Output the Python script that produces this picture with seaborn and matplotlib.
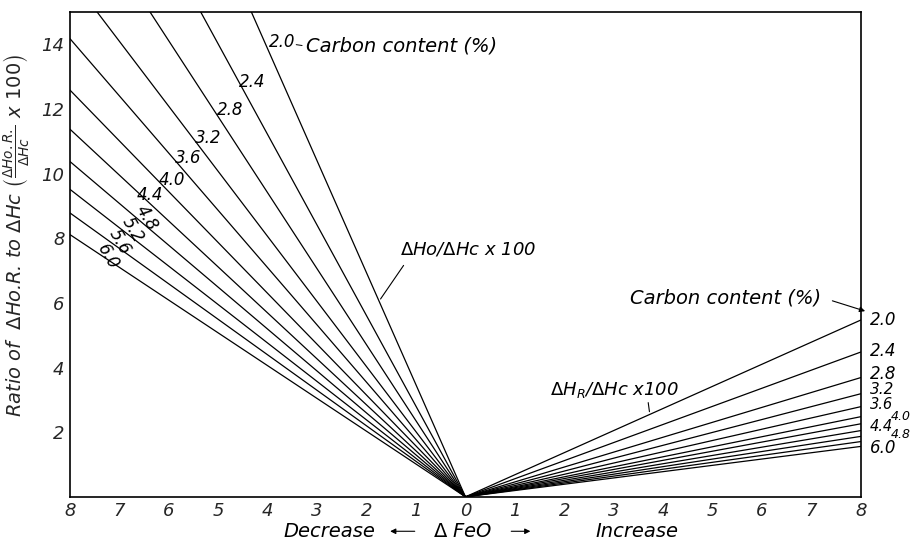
import pandas as pd
import seaborn as sns
import matplotlib.pyplot as plt
import numpy as np

# Carbon content (%) for each line
carbon = [2.0, 2.4, 2.8, 3.2, 3.6, 4.0, 4.4, 4.8, 5.2, 5.6, 6.0]
# dHo/dHc x100 read at a FeO decrease of 8 (steep lines run off the top)
left_at8 = [27.7, 22.4, 18.8, 16.1, 14.17, 12.58, 11.37, 10.37, 9.51, 8.78, 8.11]
# dHR/dHc x100 read at a FeO increase of 8
right_at8 = [5.47, 4.48, 3.69, 3.19, 2.79, 2.48, 2.26, 2.05, 1.87, 1.71, 1.56]

x_ticks = list(range(-8, 9))
x_tick_labels = [str(abs(v)) for v in x_ticks]
y_ticks = [2, 4, 6, 8, 10, 12, 14]

left_labels = ["2.4", "2.8", "3.2", "3.6", "4.0", "4.4"]
left_label_pos = [(-4.32, 12.83), (-4.76, 11.96), (-5.21, 11.10),
                  (-5.61, 10.48), (-5.94, 9.80), (-6.38, 9.34)]
left_rot_labels = ["4.8", "5.2", "5.6", "6.0"]
left_rot_pos = [(-6.46, 8.62), (-6.74, 8.25), (-6.99, 7.88), (-7.23, 7.42)]

right_labels = ["2.0", "2.4", "2.8", "3.2", "3.6", "4.0", "4.4", "4.8", "6.0"]
right_label_pos = [(8.18, 5.47), (8.18, 4.51), (8.18, 3.80), (8.18, 3.32),
                   (8.18, 2.87), (8.6, 2.47), (8.18, 2.19), (8.6, 1.93), (8.18, 1.50)]
right_label_size = [12, 12, 12, 11, 10.5, 9, 10.5, 9, 12]

# long-format tables, one line per carbon content on each side
left_df = pd.DataFrame({
    "dFeO": [0.0] * len(carbon) + [-8.0] * len(carbon),
    "ratio": [0.0] * len(carbon) + left_at8,
    "carbon": carbon + carbon,
})
right_df = pd.DataFrame({
    "dFeO": [0.0] * len(carbon) + [8.0] * len(carbon),
    "ratio": [0.0] * len(carbon) + right_at8,
    "carbon": carbon + carbon,
})

sns.set_style("white")
plt.rcParams['font.family'] = ['DejaVu Sans']
plt.rcParams['mathtext.fontset'] = 'dejavusans'

fig = plt.figure(figsize=(9.1, 5.43), dpi=100)
ax = fig.add_axes([0.077, 0.085, 0.869, 0.893])

black = ["black"] * len(carbon)
sns.lineplot(data=left_df, x="dFeO", y="ratio", hue="carbon", palette=black,
             legend=False, linewidth=0.9, ax=ax)
sns.lineplot(data=right_df, x="dFeO", y="ratio", hue="carbon", palette=black,
             legend=False, linewidth=0.9, ax=ax)

ax.set_xlim(-8, 8)
ax.set_ylim(0, 15)
ax.set_xticks(x_ticks)
ax.set_xticklabels(x_tick_labels, fontsize=13, fontstyle="italic")
ax.set_yticks(y_ticks)
ax.set_yticklabels([str(v) for v in y_ticks], fontsize=13, fontstyle="italic")
ax.tick_params(direction="in", length=3, width=0.8, color="black", pad=4)
for s in ax.spines.values():
    s.set_color("black")
    s.set_linewidth(1.2)
ax.set_xlabel("")
ax.set_ylabel(r"Ratio of  $\Delta$Ho.R. to $\Delta$Hc $\left(\frac{\Delta Ho.R.}{\Delta Hc}\ x\ 100\right)$",
              fontsize=14, fontstyle="italic")
ax.yaxis.set_label_coords(-0.05, 0.54)

it = dict(fontstyle="italic", color="black")

# left side labels
ax.text(-3.71, 14.06, "2.0", fontsize=12, ha="center", va="center", **it)
ax.annotate("", xy=(-3.25, 13.95), xytext=(-3.48, 14.0),
            arrowprops=dict(arrowstyle="-", lw=0.7, color="black"))
ax.text(-3.22, 13.95, "Carbon content (%)", fontsize=14, ha="left", va="center", **it)
for lab, (x, y) in zip(left_labels, left_label_pos):
    ax.text(x, y, lab, fontsize=12, ha="center", va="center", **it)
for lab, (x, y) in zip(left_rot_labels, left_rot_pos):
    ax.text(x, y, lab, fontsize=12, ha="center", va="center", rotation=-60, **it)

ax.text(-1.33, 7.64, r"$\Delta$Ho/$\Delta$Hc x 100", fontsize=13, ha="left", va="center", **it)
ax.annotate("", xy=(-1.75, 6.05), xytext=(-1.22, 7.23),
            arrowprops=dict(arrowstyle="-", lw=0.8, color="black"))

# right side labels
ax.text(3.33, 6.15, "Carbon content (%)", fontsize=14, ha="left", va="center", **it)
ax.annotate("", xy=(8.14, 5.72), xytext=(7.37, 6.09),
            arrowprops=dict(arrowstyle="-|>", lw=0.8, color="black", mutation_scale=8),
            annotation_clip=False)
for lab, (x, y), fs in zip(right_labels, right_label_pos, right_label_size):
    ax.text(x, y, lab, fontsize=fs, ha="left", va="center", clip_on=False, **it)

ax.text(1.71, 3.31, r"$\Delta$H$_R$/$\Delta$Hc x100", fontsize=13, ha="left", va="center", **it)
ax.annotate("", xy=(3.73, 2.55), xytext=(3.69, 3.0),
            arrowprops=dict(arrowstyle="-", lw=0.8, color="black"))

# x axis caption pieces
tr = ax.get_xaxis_transform()
cy = -0.071
ax.text(-2.76, cy, "Decrease", fontsize=14, ha="center", va="center", transform=tr, **it)
ax.text(-0.05, cy, r"$\Delta$ FeO", fontsize=14, ha="center", va="center", transform=tr, **it)
ax.text(3.47, cy, "Increase", fontsize=14, ha="center", va="center", transform=tr, **it)
ax.annotate("", xy=(-1.58, cy), xytext=(-0.97, cy), xycoords=tr, textcoords=tr,
            arrowprops=dict(arrowstyle="-|>", lw=0.8, color="black", mutation_scale=8),
            annotation_clip=False)
ax.annotate("", xy=(1.37, cy), xytext=(0.87, cy), xycoords=tr, textcoords=tr,
            arrowprops=dict(arrowstyle="-|>", lw=0.8, color="black", mutation_scale=8),
            annotation_clip=False)

fig.savefig("out.png", dpi=100, facecolor="white")
